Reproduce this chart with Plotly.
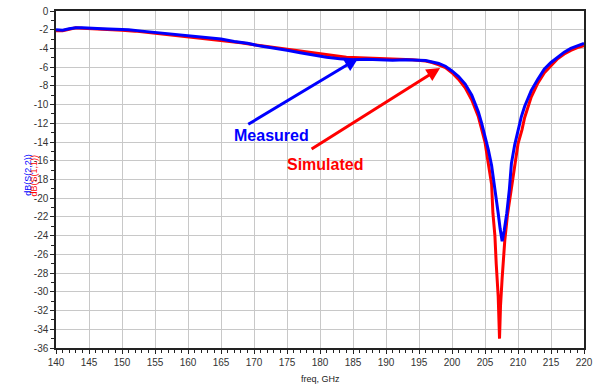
import plotly.graph_objects as go

# Measured, dB(S(2,2))
meas_f = [140, 141, 142, 143, 144, 145, 147, 149, 151, 153, 155, 157, 159, 161, 163, 165, 167, 169,
          171, 173, 175, 177, 179, 181, 183, 185, 187, 189, 191, 193, 195, 196, 197, 198, 199, 200,
          201, 202, 203, 204, 204.5, 205, 205.5, 206, 206.5, 207, 207.3, 207.6, 207.9, 208.3, 208.7,
          209, 209.5, 210, 210.5, 211, 212, 213, 214, 215, 216, 217, 218, 219, 220]
meas_db = [-2.0, -2.05, -1.9, -1.8, -1.8, -1.85, -1.9, -1.95, -2.0, -2.15, -2.3, -2.45, -2.6, -2.75,
           -2.85, -3.0, -3.25, -3.45, -3.75, -3.95, -4.2, -4.45, -4.7, -4.95, -5.1, -5.2, -5.15, -5.2,
           -5.25, -5.2, -5.25, -5.3, -5.45, -5.6, -5.9, -6.4, -7.0, -7.8, -9.0, -10.8, -12.0, -13.3,
           -14.8, -16.5, -18.8, -21.6, -23.3, -24.6, -23.5, -21.6, -19.0, -16.3, -14.3, -12.7, -11.3,
           -10.2, -8.5, -7.3, -6.2, -5.5, -4.9, -4.4, -4.0, -3.7, -3.45]

# Simulated, dB(S(1,1))
sim_f = [140, 141, 142, 143, 144, 146, 148, 150, 152, 154, 156, 158, 160, 162, 164, 166, 168, 170,
         172, 174, 176, 178, 180, 182, 184, 186, 188, 190, 192, 194, 196, 197, 198, 199, 200, 201,
         202, 203, 204, 204.5, 205, 205.5, 206, 206.2, 206.5, 206.7, 207.0, 207.2, 207.35, 207.6,
         207.8, 208.0, 208.4, 208.8, 209.2, 209.5, 210, 210.6, 211, 212, 213, 214, 215, 216, 217,
         218, 219, 220]
sim_db = [-2.1, -2.1, -1.95, -1.8, -1.85, -1.9, -2.0, -2.05, -2.15, -2.3, -2.45, -2.6, -2.8, -2.9,
          -3.05, -3.2, -3.4, -3.6, -3.8, -4.0, -4.2, -4.4, -4.6, -4.8, -4.95, -5.0, -5.05, -5.1,
          -5.15, -5.2, -5.35, -5.5, -5.75, -6.05, -6.6, -7.3, -8.2, -9.5, -11.3, -12.7, -14.0,
          -16.3, -18.5, -21.6, -24.0, -27.0, -30.5, -35.0, -31.5, -28.5, -26.5, -24.5, -21.8, -19.8,
          -17.8, -16.3, -14.2, -12.7, -11.4, -9.2, -7.7, -6.6, -5.8, -5.1, -4.6, -4.2, -3.9, -3.7]

x_ticks = [140, 145, 150, 155, 160, 165, 170, 175, 180, 185, 190, 195, 200, 205, 210, 215, 220]
x_labels = [str(v) for v in x_ticks]
y_ticks = list(range(0, -37, -2))
y_labels = [str(v) for v in y_ticks]

FONT = "Arial, Liberation Sans, sans-serif"
BLUE = "#0000ff"
RED = "#ff0000"

fig = go.Figure()
fig.add_trace(go.Scatter(x=sim_f, y=sim_db, mode="lines", line=dict(color=RED, width=3),
                         name="dB(S(1,1))"))
fig.add_trace(go.Scatter(x=meas_f, y=meas_db, mode="lines", line=dict(color=BLUE, width=3),
                         name="dB(S(2,2))"))

# arrows
fig.add_annotation(x=185.8, y=-5.05, ax=168.9, ay=-12.2, xref="x", yref="y", axref="x", ayref="y",
                   showarrow=True, arrowhead=2, arrowsize=0.9, arrowwidth=3, arrowcolor=BLUE, text="")
fig.add_annotation(x=198.2, y=-6.1, ax=178.5, ay=-14.85, xref="x", yref="y", axref="x", ayref="y",
                   showarrow=True, arrowhead=2, arrowsize=0.9, arrowwidth=3, arrowcolor=RED, text="")
fig.add_annotation(x=172.6, y=-13.35, text="<b>Measured</b>", showarrow=False,
                   font=dict(family=FONT, size=16, color=BLUE))
fig.add_annotation(x=180.8, y=-16.35, text="<b>Simulated</b>", showarrow=False,
                   font=dict(family=FONT, size=16, color=RED))

# y axis title (two coloured lines)
fig.add_annotation(xref="paper", yref="paper", x=-0.067, y=0.513, text="dB(S(2,2))", textangle=-90,
                   showarrow=False, font=dict(family=FONT, size=9, color=BLUE))
fig.add_annotation(xref="paper", yref="paper", x=-0.054, y=0.513, text="dB(S(1,1))", textangle=-90,
                   showarrow=False, font=dict(family=FONT, size=9, color=RED))
fig.add_annotation(xref="paper", yref="paper", x=0.5, y=-0.093, yanchor="middle",
                   text="freq, GHz", showarrow=False, font=dict(family=FONT, size=9, color="#222"))

axis_common = dict(showgrid=True, gridcolor="#c8c8c8", gridwidth=1.2, showline=True,
                   linecolor="#222", linewidth=1.5, mirror=True, ticks="outside", ticklen=4,
                   tickcolor="#222", tickfont=dict(family=FONT, size=10, color="#333"),
                   zeroline=False, automargin=False)

fig.update_xaxes(range=[140, 220], tickvals=x_ticks, ticktext=x_labels,
                 minor=dict(dtick=1, ticks="outside", ticklen=3, tickcolor="#222", showgrid=False),
                 **axis_common)
fig.update_yaxes(range=[-36, 0], tickvals=y_ticks, ticktext=y_labels,
                 minor=dict(dtick=1, ticks="outside", ticklen=3, tickcolor="#222", showgrid=False),
                 **axis_common)

fig.update_layout(width=597, height=387, margin=dict(l=56, r=13, t=11, b=39, autoexpand=False),
                  paper_bgcolor="white", plot_bgcolor="white", showlegend=False,
                  font=dict(family=FONT))

fig.write_html("out.html", config={"displayModeBar": False},
               post_script="document.body.style.margin='0px';")
